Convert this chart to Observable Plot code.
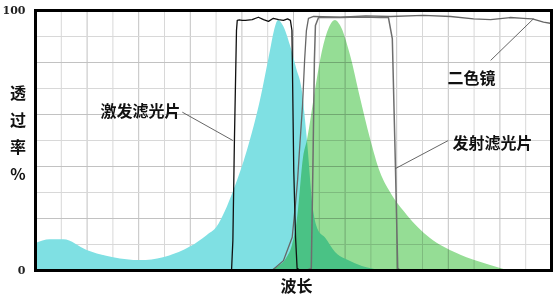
<!DOCTYPE html>
<html>
<head>
<meta charset="utf-8">
<script src="https://cdn.jsdelivr.net/npm/d3@7"></script>
<script src="https://cdn.jsdelivr.net/npm/@observablehq/plot@0.6"></script>
<style>
  html, body { margin: 0; padding: 0; background: #fff; }
  #chart svg { display: block; }
</style>
</head>
<body>
<div id="chart"></div>
<script>
// x in grid units (0..20, arbitrary wavelength scale), y in % transmission
const excitationU = [0, 0.58, 1.1, 2.0, 3.03, 4.07, 4.96, 6.0, 6.66, 7.04, 7.35, 7.69, 8.21, 8.72, 9.11, 9.26, 9.42, 9.61, 9.88, 10.12, 10.34, 10.54, 10.78, 10.97, 11.24, 11.63, 12.13, 12.67, 13.37];
const excitationV = [10.3, 11.8, 11.8, 7.7, 4.9, 3.8, 4.9, 9.0, 13.5, 16.7, 22.5, 30.8, 46, 65.4, 84.6, 92, 96.2, 94, 86.5, 77.7, 69.2, 50, 23, 15.4, 12.5, 6.9, 3.8, 1.5, 0];

const emissionU = [9.11, 9.42, 9.73, 9.96, 10.12, 10.19, 10.39, 10.54, 10.85, 11.05, 11.32, 11.63, 11.82, 12.21, 12.60, 12.98, 13.37, 13.76, 14.41, 15.31, 16.34, 17.64, 18.29];
const emissionV = [0, 1.5, 4.6, 9.6, 17.3, 23, 43.5, 50, 69.2, 80.8, 91.5, 96.2, 94.2, 82.7, 66.2, 50.8, 37.7, 30, 21.2, 12.3, 6.5, 1.9, 0];

const exFilterU = [6.0, 7.36, 7.6, 7.65, 7.71, 7.79, 7.82, 7.9, 8.01, 8.14, 8.40, 8.64, 8.84, 9.03, 9.22, 9.42, 9.61, 9.77, 9.88, 9.94, 10.01, 10.08, 10.14, 10.27];
const exFilterV = [0, 0, 0.4, 11.5, 50, 92.3, 96.2, 96.4, 96.2, 96.2, 96.5, 97.4, 96.5, 95.8, 97, 96.5, 96.2, 96.8, 96.2, 92.3, 38.5, 12.7, 0.8, 0];

const dichroicU = [8.91, 9.19, 9.61, 9.95, 10.08, 10.16, 10.23, 10.35, 10.43, 10.5, 10.58, 10.78, 11.82, 12.8, 13.76, 15.04, 16.09, 16.98, 17.64, 18.41, 18.91, 19.26, 19.69, 20];
const dichroicV = [0, 0.2, 3.8, 12.8, 25.8, 35, 46, 63.5, 80.8, 92.3, 97, 97.7, 97.4, 97.9, 97.7, 98.1, 97.7, 96.8, 96.5, 97.3, 97, 96.8, 95.5, 95];

const emFilterU = [10.47, 10.69, 10.75, 10.81, 10.85, 10.97, 11.82, 12.6, 13.37, 13.68, 13.83, 13.95, 14.04, 14.15];
const emFilterV = [0, 0.8, 38.5, 80.8, 94.2, 97.3, 97.3, 97.5, 97.3, 97.3, 89.2, 40.4, 0.8, 0];

const yTicks = [0, 100];
const gridXValues = d3.range(1, 20);
const gridYValues = d3.range(10, 100, 10);

const labelText = ["激发滤光片", "二色镜", "发射滤光片", "波长", "透\n过\n率\n%"];
const labelU = [4.07, 16.9, 17.71, 10.12, -0.68];
const labelV = [62.3, 75, 50, -5.0, 53.7];

const leaderFromU = [5.69, 17.64, 16.0];
const leaderFromV = [60.9, 80.8, 50];
const leaderToU = [7.65, 19.3, 13.95];
const leaderToV = [50, 96.8, 39.2];

const toPts = (us, vs) => us.map((u, i) => ({u, v: vs[i]}));
const excitation = toPts(excitationU, excitationV);
const emission = toPts(emissionU, emissionV);
const exFilter = toPts(exFilterU, exFilterV);
const dichroic = toPts(dichroicU, dichroicV);
const emFilter = toPts(emFilterU, emFilterV);
const labels = labelText.map((t, i) => ({t, u: labelU[i], v: labelV[i]}));
const leaders = leaderFromU.map((u, i) => ({u1: u, v1: leaderFromV[i], u2: leaderToU[i], v2: leaderToV[i]}));

const cjk = "'Noto Sans CJK SC', sans-serif";

const chart = Plot.plot({
  width: 553,
  height: 297,
  marginLeft: 35,
  marginRight: 2,
  marginTop: 10,
  marginBottom: 27,
  x: {domain: [0, 20], axis: null},
  y: {domain: [0, 100], axis: null},
  marks: [
    Plot.gridX(gridXValues, {stroke: d => d % 2 === 0 ? "#c2c2c2" : "#d8d8d8", strokeOpacity: 1, strokeWidth: 1}),
    Plot.gridY(gridYValues, {stroke: d => d % 20 === 0 ? "#c2c2c2" : "#d8d8d8", strokeOpacity: 1, strokeWidth: 1}),
    Plot.areaY(excitation, {x: "u", y: "v", fill: "#7fe0e3", curve: "monotone-x"}),
    Plot.areaY(emission, {x: "u", y: "v", fill: "#95dd95", curve: "monotone-x", mixBlendMode: "multiply"}),
    Plot.line(dichroic, {x: "u", y: "v", stroke: "#666", strokeWidth: 1.3}),
    Plot.line(emFilter, {x: "u", y: "v", stroke: "#6e6e6e", strokeWidth: 1.5}),
    Plot.line(exFilter, {x: "u", y: "v", stroke: "#111", strokeWidth: 1.3}),
    Plot.link(leaders, {x1: "u1", y1: "v1", x2: "u2", y2: "v2", stroke: "#555", strokeWidth: 0.9}),
    Plot.text(labels, {x: "u", y: "v", text: "t", fontSize: 16, fontFamily: cjk, fontWeight: "bold", fill: "#111", lineHeight: 1.68}),
    Plot.axisY(yTicks, {tickSize: 0, tickPadding: 10, fontSize: 11, fontFamily: "'DejaVu Serif', serif", fontWeight: "bold", label: null, fill: "#222"}),
    Plot.frame({stroke: "#000", strokeWidth: 3})
  ]
});
document.getElementById("chart").appendChild(chart);
</script>
</body>
</html>
